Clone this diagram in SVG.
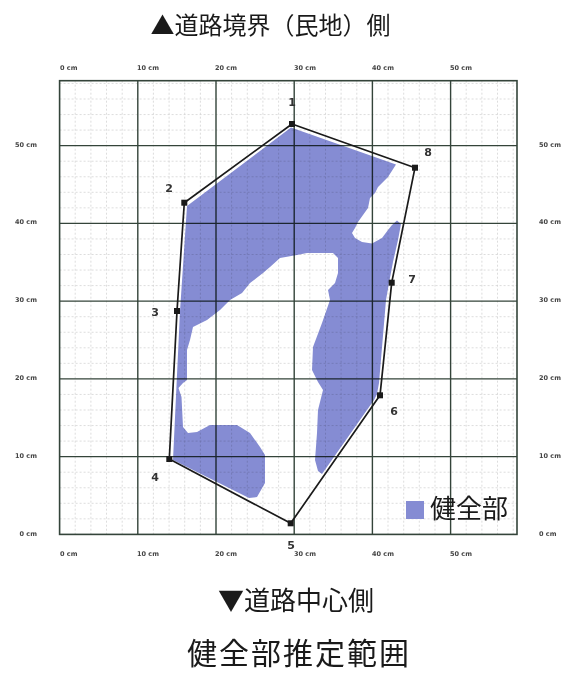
<svg xmlns="http://www.w3.org/2000/svg" width="573" height="673" viewBox="0 0 573 673">
<style>
.minor{stroke:#cfcfcf;stroke-width:0.7;stroke-dasharray:2 2;fill:none}
.major{stroke:#34443a;stroke-width:1.4;fill:none}
.frame{stroke:#34443a;stroke-width:1.6;fill:none}
.ax{font-family:"DejaVu Sans",sans-serif;font-size:6.5px;font-weight:bold;fill:#444}
.axr{font-family:"DejaVu Sans",sans-serif;font-size:6.5px;font-weight:bold;fill:#444;text-anchor:end}
.num{font-family:"DejaVu Sans",sans-serif;font-size:11px;font-weight:bold;fill:#333;text-anchor:middle}
.jp{font-family:"Noto Sans CJK JP","Noto Sans CJK SC",sans-serif;fill:#1a1a1a}
.blue{fill:#858cd3}
.mk{fill:#1a1a1a}
</style>
<rect width="573" height="673" fill="#ffffff"/>
<g id="grid">
<path class="minor" d="M75.2,80.7V534.4M90.9,80.7V534.4M106.5,80.7V534.4M122.2,80.7V534.4M153.4,80.7V534.4M169.1,80.7V534.4M184.7,80.7V534.4M200.4,80.7V534.4M231.6,80.7V534.4M247.3,80.7V534.4M262.9,80.7V534.4M278.6,80.7V534.4M309.8,80.7V534.4M325.5,80.7V534.4M341.1,80.7V534.4M356.8,80.7V534.4M388,80.7V534.4M403.7,80.7V534.4M419.3,80.7V534.4M435,80.7V534.4M466.2,80.7V534.4M481.9,80.7V534.4M497.5,80.7V534.4M513.2,80.7V534.4"/>
<path class="minor" d="M59.6,518.85H517M59.6,503.3H517M59.6,487.75H517M59.6,472.2H517M59.6,441.1H517M59.6,425.55H517M59.6,410H517M59.6,394.45H517M59.6,363.35H517M59.6,347.8H517M59.6,332.25H517M59.6,316.7H517M59.6,285.6H517M59.6,270.05H517M59.6,254.5H517M59.6,238.95H517M59.6,207.85H517M59.6,192.3H517M59.6,176.75H517M59.6,161.2H517M59.6,130.1H517M59.6,114.55H517M59.6,99H517M59.6,83.45H517"/>
<path class="major" d="M137.8,80.7V534.4M216,80.7V534.4M294.2,80.7V534.4M372.4,80.7V534.4M450.6,80.7V534.4M59.6,456.65H517M59.6,378.9H517M59.6,301.15H517M59.6,223.4H517M59.6,145.65H517"/>
<rect class="frame" x="59.6" y="80.7" width="457.4" height="453.7"/>
</g>
<g id="axis-labels">
<text class="ax" x="60" y="70">0 cm</text>
<text class="ax" x="137" y="70">10 cm</text>
<text class="ax" x="215" y="70">20 cm</text>
<text class="ax" x="294" y="70">30 cm</text>
<text class="ax" x="372" y="70">40 cm</text>
<text class="ax" x="450" y="70">50 cm</text>
<text class="ax" x="60" y="556">0 cm</text>
<text class="ax" x="137" y="556">10 cm</text>
<text class="ax" x="215" y="556">20 cm</text>
<text class="ax" x="294" y="556">30 cm</text>
<text class="ax" x="372" y="556">40 cm</text>
<text class="ax" x="450" y="556">50 cm</text>
<text class="axr" x="37" y="147">50 cm</text>
<text class="axr" x="37" y="224">40 cm</text>
<text class="axr" x="37" y="302">30 cm</text>
<text class="axr" x="37" y="380">20 cm</text>
<text class="axr" x="37" y="458">10 cm</text>
<text class="axr" x="37" y="536">0 cm</text>
<text class="ax" x="539" y="147">50 cm</text>
<text class="ax" x="539" y="224">40 cm</text>
<text class="ax" x="539" y="302">30 cm</text>
<text class="ax" x="539" y="380">20 cm</text>
<text class="ax" x="539" y="458">10 cm</text>
<text class="ax" x="539" y="536">0 cm</text>
</g>
<g id="sound-area">
<path class="blue" style="mix-blend-mode:multiply" d="M187,206 L291,127.5 L396,164.5 L388,177 L378,187 L375,193 L370,198 L368,208 L363,215 L358,222 L355,228 L352,233 L355,238 L362,242 L372,243.5 L382,238 L388,230 L392,225 L397,220.5 L401,224 L398,240 L393,262 L389,283 L386,300 L379,383 L377,394 L374,400 L322,474 L318,471 L315,460 L317,433 L318,410 L323,390 L318,382 L312,370 L313,347 L322,323 L330,300 L328,290 L335,283 L338,273 L338,258 L333,253 L307,253 L297,255 L280,258 L270,267 L263,273 L250,283 L242,293 L230,300 L220,310 L207,320 L193,327 L190,340 L187,350 L187,380 L183,383 L178.5,388 L181.5,397 L183,427 L188,433 L197,432 L210,425 L237,425 L250,433 L260,447 L265,455 L265,483 L257,497 L249,498 L173,460 L180,311 Z"/>
</g>
<g id="connectors">
<polygon points="292,124 415,167.7 391.7,282.7 380,395.3 290.7,523.3 169.3,459 177,311 184.3,202.7" fill="none" stroke="#1a1a1a" stroke-width="1.7" stroke-linejoin="round"/>
</g>
<g id="p1"><rect class="mk" x="289" y="121" width="6" height="6"/><text class="num" x="292" y="106">1</text></g>
<g id="p2"><rect class="mk" x="181.3" y="199.7" width="6" height="6"/><text class="num" x="169" y="192">2</text></g>
<g id="p3"><rect class="mk" x="174" y="308" width="6" height="6"/><text class="num" x="155" y="316">3</text></g>
<g id="p4"><rect class="mk" x="166.3" y="456" width="6" height="6"/><text class="num" x="155" y="481">4</text></g>
<g id="p5"><rect class="mk" x="287.7" y="520.3" width="6" height="6"/><text class="num" x="291" y="549">5</text></g>
<g id="p6"><rect class="mk" x="377" y="392.3" width="6" height="6"/><text class="num" x="394" y="415">6</text></g>
<g id="p7"><rect class="mk" x="388.7" y="279.7" width="6" height="6"/><text class="num" x="412" y="282.5">7</text></g>
<g id="p8"><rect class="mk" x="412" y="164.7" width="6" height="6"/><text class="num" x="428" y="156">8</text></g>
<g id="legend">
<rect class="blue" x="406" y="501" width="18" height="18"/>
<text class="jp" x="430" y="518" font-size="26">健全部</text>
</g>
<g id="titles">
<text class="jp" x="270.5" y="34" font-size="24" text-anchor="middle">▲道路境界（民地）側</text>
<text class="jp" x="296" y="610" font-size="26" text-anchor="middle">▼道路中心側</text>
<text class="jp" x="299" y="664" font-size="30" text-anchor="middle" letter-spacing="2">健全部推定範囲</text>
</g>
</svg>
